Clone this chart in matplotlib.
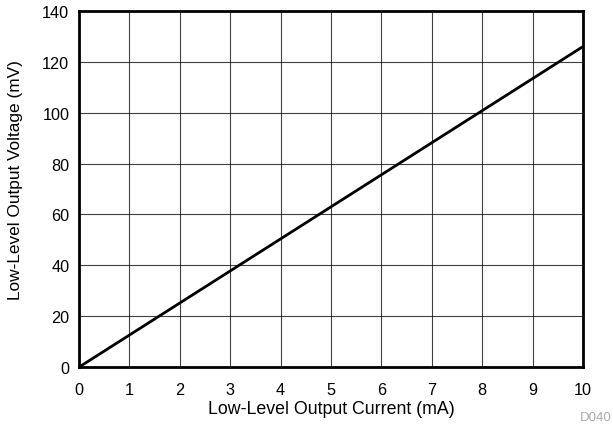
import matplotlib
matplotlib.use("Agg")
import matplotlib.pyplot as plt

plt.rcParams['font.family'] = ['Liberation Sans', 'DejaVu Sans']

# Output current (mA) vs low-level output voltage (mV)
current_ma = [0, 5, 10]
voltage_mv = [0, 63, 126]
x_ticks = [0, 1, 2, 3, 4, 5, 6, 7, 8, 9, 10]
y_ticks = [0, 20, 40, 60, 80, 100, 120, 140]

fig = plt.figure(figsize=(6.13, 4.27), dpi=100)
ax = fig.add_axes([0.129, 0.138, 0.822, 0.834])

ax.plot(current_ma, voltage_mv, color='black', lw=2.0, solid_capstyle='butt', zorder=3)

ax.set_xlim(0, 10)
ax.set_ylim(0, 140)
ax.set_xticks(x_ticks)
ax.set_yticks(y_ticks)
ax.grid(True, color='black', lw=0.8, alpha=0.75)
ax.tick_params(length=0, labelsize=11.7, colors='black')
ax.tick_params(axis='x', pad=11)
ax.tick_params(axis='y', pad=7)

for s in ax.spines.values():
    s.set_linewidth(2.0)

ax.set_xlabel('Low-Level Output Current (mA)', fontsize=12.8, labelpad=2)
ax.set_ylabel('Low-Level Output Voltage (mV)', fontsize=12.4)
ax.yaxis.set_label_coords(-0.111, 0.528)

fig.text(0.997, 0.008, 'D040', fontsize=9.5, color='#aaaaaa', ha='right', va='bottom')

fig.savefig('out.png', dpi=100)
